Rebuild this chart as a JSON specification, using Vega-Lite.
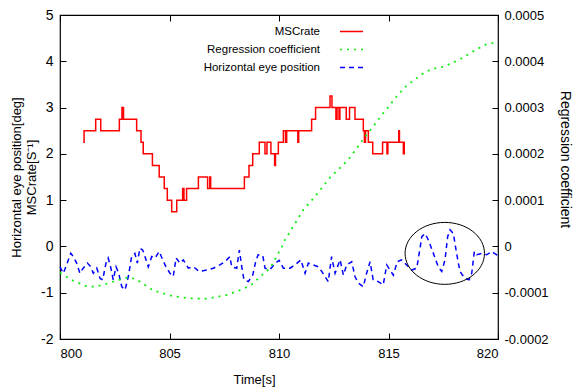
{
  "$schema": "https://vega.github.io/schema/vega-lite/v6.json",
  "width": 438,
  "height": 324,
  "autosize": "none",
  "padding": {"left": 60, "top": 15, "right": 75, "bottom": 49},
  "background": "white",
  "config": {
    "font": "Liberation Sans",
    "locale": {"number": {"decimal": ".", "thousands": ",", "grouping": [3], "currency": ["$", ""], "minus": "-"}},
    "view": {"stroke": "black", "strokeWidth": 1.2},
    "axis": {
      "grid": false,
      "domain": false,
      "tickColor": "black",
      "tickWidth": 1,
      "tickSize": -6,
      "labelColor": "black",
      "titleColor": "black",
      "labelFont": "Liberation Sans",
      "titleFont": "Liberation Sans",
      "labelFontSize": 13,
      "titleFontSize": 13,
      "titleFontWeight": "normal"
    },
    "legend": {"labelFont": "Liberation Sans", "labelColor": "black"}
  },
  "datasets": {
    "mscrate": [
      {"series": "MSCrate", "t": 801.06, "v": 2.25},
      {"series": "MSCrate", "t": 801.1, "v": 2.5},
      {"series": "MSCrate", "t": 801.63, "v": 2.75},
      {"series": "MSCrate", "t": 801.86, "v": 2.5},
      {"series": "MSCrate", "t": 802.71, "v": 2.75},
      {"series": "MSCrate", "t": 802.83, "v": 3.0},
      {"series": "MSCrate", "t": 802.9, "v": 2.75},
      {"series": "MSCrate", "t": 803.5, "v": 2.5},
      {"series": "MSCrate", "t": 803.7, "v": 2.25},
      {"series": "MSCrate", "t": 803.8, "v": 2.0},
      {"series": "MSCrate", "t": 804.22, "v": 1.75},
      {"series": "MSCrate", "t": 804.53, "v": 1.5},
      {"series": "MSCrate", "t": 804.76, "v": 1.25},
      {"series": "MSCrate", "t": 804.9, "v": 1.0},
      {"series": "MSCrate", "t": 805.1, "v": 0.75},
      {"series": "MSCrate", "t": 805.33, "v": 1.0},
      {"series": "MSCrate", "t": 805.6, "v": 1.25},
      {"series": "MSCrate", "t": 805.66, "v": 1.0},
      {"series": "MSCrate", "t": 805.78, "v": 1.25},
      {"series": "MSCrate", "t": 806.32, "v": 1.5},
      {"series": "MSCrate", "t": 806.74, "v": 1.25},
      {"series": "MSCrate", "t": 806.84, "v": 1.5},
      {"series": "MSCrate", "t": 806.88, "v": 1.25},
      {"series": "MSCrate", "t": 808.42, "v": 1.5},
      {"series": "MSCrate", "t": 808.63, "v": 1.75},
      {"series": "MSCrate", "t": 808.8, "v": 2.0},
      {"series": "MSCrate", "t": 809.1, "v": 2.25},
      {"series": "MSCrate", "t": 809.36, "v": 2.0},
      {"series": "MSCrate", "t": 809.45, "v": 2.25},
      {"series": "MSCrate", "t": 809.63, "v": 2.0},
      {"series": "MSCrate", "t": 809.8, "v": 1.75},
      {"series": "MSCrate", "t": 809.84, "v": 2.0},
      {"series": "MSCrate", "t": 809.97, "v": 2.25},
      {"series": "MSCrate", "t": 810.2, "v": 2.5},
      {"series": "MSCrate", "t": 810.3, "v": 2.25},
      {"series": "MSCrate", "t": 810.35, "v": 2.5},
      {"series": "MSCrate", "t": 810.86, "v": 2.25},
      {"series": "MSCrate", "t": 810.9, "v": 2.5},
      {"series": "MSCrate", "t": 811.49, "v": 2.75},
      {"series": "MSCrate", "t": 811.67, "v": 3.0},
      {"series": "MSCrate", "t": 812.33, "v": 3.25},
      {"series": "MSCrate", "t": 812.42, "v": 3.0},
      {"series": "MSCrate", "t": 812.6, "v": 2.75},
      {"series": "MSCrate", "t": 812.65, "v": 3.0},
      {"series": "MSCrate", "t": 812.74, "v": 2.75},
      {"series": "MSCrate", "t": 812.78, "v": 3.0},
      {"series": "MSCrate", "t": 813.07, "v": 2.75},
      {"series": "MSCrate", "t": 813.22, "v": 3.0},
      {"series": "MSCrate", "t": 813.47, "v": 2.75},
      {"series": "MSCrate", "t": 813.85, "v": 2.5},
      {"series": "MSCrate", "t": 813.9, "v": 2.25},
      {"series": "MSCrate", "t": 813.95, "v": 2.5},
      {"series": "MSCrate", "t": 814.08, "v": 2.25},
      {"series": "MSCrate", "t": 814.28, "v": 2.0},
      {"series": "MSCrate", "t": 814.73, "v": 2.25},
      {"series": "MSCrate", "t": 814.93, "v": 2.0},
      {"series": "MSCrate", "t": 814.97, "v": 2.25},
      {"series": "MSCrate", "t": 815.47, "v": 2.5},
      {"series": "MSCrate", "t": 815.5, "v": 2.25},
      {"series": "MSCrate", "t": 815.68, "v": 2.0},
      {"series": "MSCrate", "t": 815.72, "v": 2.25},
      {"series": "MSCrate", "t": 815.75, "v": 2.25}
    ],
    "reg": [
      {"series": "Regression coefficient", "t": 800.0, "r": -0.000057},
      {"series": "Regression coefficient", "t": 800.6, "r": -0.000074},
      {"series": "Regression coefficient", "t": 801.2, "r": -0.000086},
      {"series": "Regression coefficient", "t": 801.6, "r": -0.000087},
      {"series": "Regression coefficient", "t": 802.1, "r": -0.000081},
      {"series": "Regression coefficient", "t": 802.7, "r": -0.000072},
      {"series": "Regression coefficient", "t": 803.2, "r": -0.000066},
      {"series": "Regression coefficient", "t": 803.65, "r": -0.000076},
      {"series": "Regression coefficient", "t": 804.25, "r": -0.000095},
      {"series": "Regression coefficient", "t": 805.2, "r": -0.000108},
      {"series": "Regression coefficient", "t": 805.95, "r": -0.000112},
      {"series": "Regression coefficient", "t": 806.7, "r": -0.000113},
      {"series": "Regression coefficient", "t": 807.6, "r": -0.000105},
      {"series": "Regression coefficient", "t": 808.37, "r": -0.000092},
      {"series": "Regression coefficient", "t": 808.83, "r": -0.00008},
      {"series": "Regression coefficient", "t": 809.13, "r": -0.000065},
      {"series": "Regression coefficient", "t": 809.44, "r": -0.000054},
      {"series": "Regression coefficient", "t": 809.74, "r": -0.000036},
      {"series": "Regression coefficient", "t": 809.9, "r": -0.00002},
      {"series": "Regression coefficient", "t": 810.12, "r": -0.000002},
      {"series": "Regression coefficient", "t": 810.27, "r": 0.000014},
      {"series": "Regression coefficient", "t": 810.65, "r": 0.000043},
      {"series": "Regression coefficient", "t": 811.11, "r": 0.000079},
      {"series": "Regression coefficient", "t": 811.57, "r": 0.000104},
      {"series": "Regression coefficient", "t": 811.95, "r": 0.000126},
      {"series": "Regression coefficient", "t": 812.33, "r": 0.000149},
      {"series": "Regression coefficient", "t": 812.79, "r": 0.00017},
      {"series": "Regression coefficient", "t": 813.16, "r": 0.000187},
      {"series": "Regression coefficient", "t": 813.55, "r": 0.000212},
      {"series": "Regression coefficient", "t": 813.93, "r": 0.000237},
      {"series": "Regression coefficient", "t": 814.3, "r": 0.000259},
      {"series": "Regression coefficient", "t": 814.69, "r": 0.000284},
      {"series": "Regression coefficient", "t": 814.92, "r": 0.000297},
      {"series": "Regression coefficient", "t": 815.37, "r": 0.000324},
      {"series": "Regression coefficient", "t": 815.75, "r": 0.000344},
      {"series": "Regression coefficient", "t": 816.21, "r": 0.000361},
      {"series": "Regression coefficient", "t": 816.67, "r": 0.000377},
      {"series": "Regression coefficient", "t": 817.05, "r": 0.000384},
      {"series": "Regression coefficient", "t": 817.5, "r": 0.000388},
      {"series": "Regression coefficient", "t": 817.89, "r": 0.000396},
      {"series": "Regression coefficient", "t": 818.26, "r": 0.000404},
      {"series": "Regression coefficient", "t": 818.64, "r": 0.000415},
      {"series": "Regression coefficient", "t": 819.03, "r": 0.000426},
      {"series": "Regression coefficient", "t": 819.48, "r": 0.000437},
      {"series": "Regression coefficient", "t": 819.94, "r": 0.000441},
      {"series": "Regression coefficient", "t": 820.0, "r": 0.000442}
    ],
    "eye": [
      {"series": "Horizontal eye position", "t": 800.0, "v": -0.44},
      {"series": "Horizontal eye position", "t": 800.15, "v": -0.58},
      {"series": "Horizontal eye position", "t": 800.3, "v": -0.4},
      {"series": "Horizontal eye position", "t": 800.49, "v": -0.15},
      {"series": "Horizontal eye position", "t": 800.61, "v": -0.22},
      {"series": "Horizontal eye position", "t": 800.76, "v": -0.36},
      {"series": "Horizontal eye position", "t": 800.91, "v": -0.58},
      {"series": "Horizontal eye position", "t": 801.06, "v": -0.47},
      {"series": "Horizontal eye position", "t": 801.25, "v": -0.36},
      {"series": "Horizontal eye position", "t": 801.4, "v": -0.44},
      {"series": "Horizontal eye position", "t": 801.52, "v": -0.58},
      {"series": "Horizontal eye position", "t": 801.68, "v": -0.47},
      {"series": "Horizontal eye position", "t": 801.83, "v": -0.69},
      {"series": "Horizontal eye position", "t": 801.95, "v": -0.72},
      {"series": "Horizontal eye position", "t": 802.1, "v": -0.36},
      {"series": "Horizontal eye position", "t": 802.2, "v": -0.25},
      {"series": "Horizontal eye position", "t": 802.31, "v": -0.44},
      {"series": "Horizontal eye position", "t": 802.43, "v": -0.72},
      {"series": "Horizontal eye position", "t": 802.56, "v": -0.44},
      {"series": "Horizontal eye position", "t": 802.68, "v": -0.58},
      {"series": "Horizontal eye position", "t": 802.82, "v": -0.87},
      {"series": "Horizontal eye position", "t": 802.97, "v": -0.94},
      {"series": "Horizontal eye position", "t": 803.12, "v": -0.65},
      {"series": "Horizontal eye position", "t": 803.27, "v": -0.22},
      {"series": "Horizontal eye position", "t": 803.42, "v": -0.15},
      {"series": "Horizontal eye position", "t": 803.53, "v": -0.36},
      {"series": "Horizontal eye position", "t": 803.65, "v": -0.04},
      {"series": "Horizontal eye position", "t": 803.78, "v": -0.08},
      {"series": "Horizontal eye position", "t": 803.93, "v": -0.29},
      {"series": "Horizontal eye position", "t": 804.03, "v": -0.44},
      {"series": "Horizontal eye position", "t": 804.19, "v": -0.22},
      {"series": "Horizontal eye position", "t": 804.34, "v": -0.25},
      {"series": "Horizontal eye position", "t": 804.53, "v": -0.11},
      {"series": "Horizontal eye position", "t": 804.69, "v": -0.29},
      {"series": "Horizontal eye position", "t": 804.84, "v": -0.44},
      {"series": "Horizontal eye position", "t": 805.02, "v": -0.58},
      {"series": "Horizontal eye position", "t": 805.17, "v": -0.65},
      {"series": "Horizontal eye position", "t": 805.3, "v": -0.25},
      {"series": "Horizontal eye position", "t": 805.48, "v": -0.36},
      {"series": "Horizontal eye position", "t": 805.63, "v": -0.29},
      {"series": "Horizontal eye position", "t": 805.86, "v": -0.47},
      {"series": "Horizontal eye position", "t": 806.09, "v": -0.44},
      {"series": "Horizontal eye position", "t": 806.36, "v": -0.54},
      {"series": "Horizontal eye position", "t": 806.7, "v": -0.51},
      {"series": "Horizontal eye position", "t": 807.0, "v": -0.47},
      {"series": "Horizontal eye position", "t": 807.3, "v": -0.4},
      {"series": "Horizontal eye position", "t": 807.53, "v": -0.33},
      {"series": "Horizontal eye position", "t": 807.76, "v": -0.22},
      {"series": "Horizontal eye position", "t": 807.84, "v": -0.44},
      {"series": "Horizontal eye position", "t": 808.07, "v": -0.47},
      {"series": "Horizontal eye position", "t": 808.19, "v": -0.08},
      {"series": "Horizontal eye position", "t": 808.3, "v": -0.44},
      {"series": "Horizontal eye position", "t": 808.4, "v": -0.72},
      {"series": "Horizontal eye position", "t": 808.6, "v": -0.76},
      {"series": "Horizontal eye position", "t": 808.8, "v": -0.62},
      {"series": "Horizontal eye position", "t": 808.95, "v": -0.3},
      {"series": "Horizontal eye position", "t": 809.05, "v": -0.18},
      {"series": "Horizontal eye position", "t": 809.26, "v": -0.2},
      {"series": "Horizontal eye position", "t": 809.36, "v": -0.47},
      {"series": "Horizontal eye position", "t": 809.59, "v": -0.5},
      {"series": "Horizontal eye position", "t": 809.82, "v": -0.37},
      {"series": "Horizontal eye position", "t": 810.01, "v": -0.3},
      {"series": "Horizontal eye position", "t": 810.2, "v": -0.47},
      {"series": "Horizontal eye position", "t": 810.5, "v": -0.47},
      {"series": "Horizontal eye position", "t": 810.73, "v": -0.4},
      {"series": "Horizontal eye position", "t": 811.0, "v": -0.29},
      {"series": "Horizontal eye position", "t": 811.19, "v": -0.58},
      {"series": "Horizontal eye position", "t": 811.34, "v": -0.36},
      {"series": "Horizontal eye position", "t": 811.57, "v": -0.4},
      {"series": "Horizontal eye position", "t": 811.8, "v": -0.44},
      {"series": "Horizontal eye position", "t": 811.95, "v": -0.54},
      {"series": "Horizontal eye position", "t": 812.1, "v": -0.65},
      {"series": "Horizontal eye position", "t": 812.25, "v": -0.76},
      {"series": "Horizontal eye position", "t": 812.4, "v": -0.22},
      {"series": "Horizontal eye position", "t": 812.56, "v": -0.58},
      {"series": "Horizontal eye position", "t": 812.79, "v": -0.29},
      {"series": "Horizontal eye position", "t": 812.94, "v": -0.62},
      {"series": "Horizontal eye position", "t": 813.09, "v": -0.4},
      {"series": "Horizontal eye position", "t": 813.32, "v": -0.33},
      {"series": "Horizontal eye position", "t": 813.47, "v": -0.65},
      {"series": "Horizontal eye position", "t": 813.62, "v": -0.79},
      {"series": "Horizontal eye position", "t": 813.85, "v": -0.87},
      {"series": "Horizontal eye position", "t": 814.0, "v": -0.58},
      {"series": "Horizontal eye position", "t": 814.16, "v": -0.33},
      {"series": "Horizontal eye position", "t": 814.3, "v": -0.72},
      {"series": "Horizontal eye position", "t": 814.53, "v": -0.76},
      {"series": "Horizontal eye position", "t": 814.76, "v": -0.83},
      {"series": "Horizontal eye position", "t": 814.92, "v": -0.4},
      {"series": "Horizontal eye position", "t": 815.07, "v": -0.51},
      {"series": "Horizontal eye position", "t": 815.22, "v": -0.62},
      {"series": "Horizontal eye position", "t": 815.4, "v": -0.33},
      {"series": "Horizontal eye position", "t": 815.6, "v": -0.29},
      {"series": "Horizontal eye position", "t": 815.83, "v": -0.4},
      {"series": "Horizontal eye position", "t": 816.06, "v": -0.51},
      {"series": "Horizontal eye position", "t": 816.29, "v": -0.47},
      {"series": "Horizontal eye position", "t": 816.44, "v": -0.04},
      {"series": "Horizontal eye position", "t": 816.52, "v": 0.21},
      {"series": "Horizontal eye position", "t": 816.67, "v": 0.28},
      {"series": "Horizontal eye position", "t": 816.82, "v": 0.14},
      {"series": "Horizontal eye position", "t": 817.05, "v": -0.15},
      {"series": "Horizontal eye position", "t": 817.27, "v": -0.44},
      {"series": "Horizontal eye position", "t": 817.43, "v": -0.54},
      {"series": "Horizontal eye position", "t": 817.58, "v": -0.29},
      {"series": "Horizontal eye position", "t": 817.7, "v": 0.21},
      {"series": "Horizontal eye position", "t": 817.81, "v": 0.36},
      {"series": "Horizontal eye position", "t": 817.96, "v": 0.28},
      {"series": "Horizontal eye position", "t": 818.11, "v": -0.15},
      {"series": "Horizontal eye position", "t": 818.26, "v": -0.54},
      {"series": "Horizontal eye position", "t": 818.49, "v": -0.69},
      {"series": "Horizontal eye position", "t": 818.68, "v": -0.72},
      {"series": "Horizontal eye position", "t": 818.8, "v": -0.58},
      {"series": "Horizontal eye position", "t": 818.92, "v": -0.11},
      {"series": "Horizontal eye position", "t": 819.03, "v": -0.18},
      {"series": "Horizontal eye position", "t": 819.26, "v": -0.15},
      {"series": "Horizontal eye position", "t": 819.48, "v": -0.18},
      {"series": "Horizontal eye position", "t": 819.71, "v": -0.11},
      {"series": "Horizontal eye position", "t": 819.94, "v": -0.18},
      {"series": "Horizontal eye position", "t": 820.0, "v": -0.16}
    ],
    "ellipse": [
      {"t": 817.57, "v": -0.15}
    ]
  },
  "layer": [
    {
      "layer": [
        {
          "data": {"name": "mscrate"},
          "mark": {"type": "line", "interpolate": "step-after", "strokeWidth": 1.5},
          "encoding": {
            "x": {"field": "t", "type": "quantitative", "scale": {"domain": [800, 820], "nice": false, "zero": false},
              "axis": {"title": "Time[s]", "values": [800, 805, 810, 815, 820], "format": "d", "labelPadding": 14, "titlePadding": 13, "titleX": 194, "titleAlign": "center", "titleFontSize": 13}},
            "y": {"field": "v", "type": "quantitative", "scale": {"domain": [-2, 5], "nice": false, "zero": false},
              "axis": {"orient": "left", "title": ["Horizontal eye position[deg]", "MSCrate[S⁻¹]"], "values": [-2, -1, 0, 1, 2, 3, 4, 5], "format": "d", "labelPadding": 13, "titlePadding": 2, "titleFontSize": 13, "labelFontSize": 14}},
            "color": {"field": "series", "type": "nominal",
              "scale": {"domain": ["MSCrate", "Regression coefficient", "Horizontal eye position"], "range": ["#ff0000", "#11ee11", "#0000ff"]},
              "legend": {"orient": "none", "legendX": 279, "legendY": 4, "title": null, "labelAlign": "right", "labelOffset": -44, "symbolSize": 529, "symbolStrokeWidth": 1.5, "labelFontSize": 11.5, "rowPadding": -7, "padding": 0, "symbolType": "stroke"}},
            "strokeDash": {"field": "series", "type": "nominal",
              "scale": {"domain": ["MSCrate", "Regression coefficient", "Horizontal eye position"], "range": [[1, 0], [2, 5], [5, 4]]},
              "legend": {"orient": "none", "legendX": 279, "legendY": 4, "title": null, "labelAlign": "right", "labelOffset": -44, "symbolSize": 529, "symbolStrokeWidth": 1.5, "labelFontSize": 11.5, "rowPadding": -7, "padding": 0, "symbolType": "stroke"}}
          }
        },
        {
          "data": {"name": "eye"},
          "mark": {"type": "line", "strokeWidth": 1.5},
          "encoding": {
            "x": {"field": "t", "type": "quantitative"},
            "y": {"field": "v", "type": "quantitative"},
            "color": {"field": "series", "type": "nominal"},
            "strokeDash": {"field": "series", "type": "nominal"}
          }
        },
        {
          "data": {"name": "ellipse"},
          "mark": {"type": "point", "shape": "M-1,0A1,0.78,0,1,1,1,0A1,0.78,0,1,1,-1,0Z", "size": 6304, "filled": false, "color": "black", "strokeWidth": 1, "opacity": 1},
          "encoding": {
            "x": {"field": "t", "type": "quantitative"},
            "y": {"field": "v", "type": "quantitative"}
          }
        }
      ]
    },
    {
      "data": {"name": "reg"},
      "mark": {"type": "line", "strokeWidth": 1.8},
      "encoding": {
        "x": {"field": "t", "type": "quantitative", "scale": {"domain": [800, 820], "nice": false, "zero": false},
          "axis": {"orient": "top", "title": null, "labels": false, "values": [800, 805, 810, 815, 820]}},
        "y": {"field": "r", "type": "quantitative", "scale": {"domain": [-0.0002, 0.0005], "nice": false, "zero": false},
          "axis": {"orient": "right", "title": "Regression coefficient", "values": [-0.0002, -0.0001, 0, 0.0001, 0.0002, 0.0003, 0.0004, 0.0005], "format": ".4~f", "labelPadding": 12, "titlePadding": 9, "titleFontSize": 14, "titleAngle": 90, "titleY": 144, "titleAlign": "center"}},
        "color": {"field": "series", "type": "nominal"},
        "strokeDash": {"field": "series", "type": "nominal"}
      }
    }
  ],
  "resolve": {"scale": {"y": "independent", "x": "independent"}}
}
